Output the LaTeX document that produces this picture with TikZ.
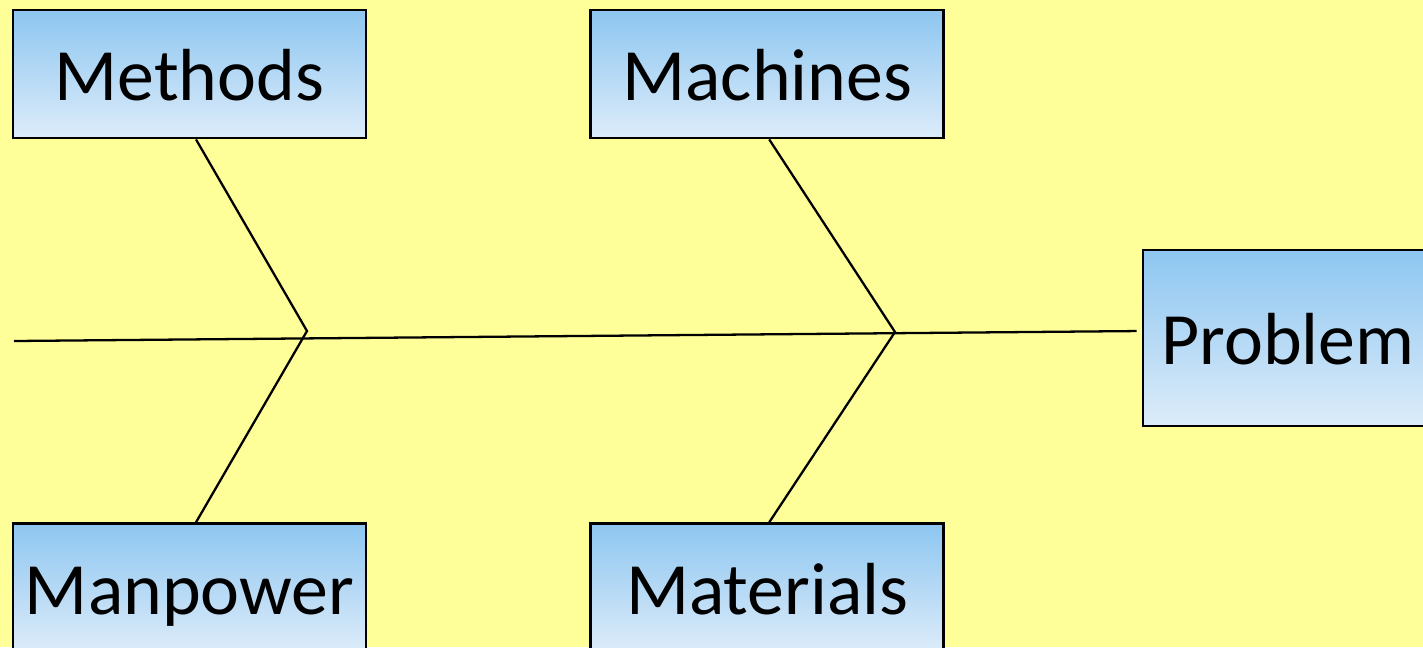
\documentclass[tikz,border=0pt]{standalone}
\usepackage{fontspec}
\setmainfont{Carlito}
\usetikzlibrary{positioning}
\definecolor{paper}{HTML}{FFFF99}
\definecolor{boxtop}{HTML}{8DC6F0}
\definecolor{boxbottom}{HTML}{DDECFA}
\tikzset{
  x=0.02cm, y=-0.02cm,
  node distance=4.44cm,
  cause/.style={draw, line width=1.6pt, top color=boxtop, bottom color=boxbottom,
    minimum width=7.06cm, minimum height=2.56cm, inner sep=0pt,
    text height=30.5pt, text depth=0pt,
    font=\fontsize{42}{50}\selectfont},
  bone/.style={line width=1.3pt},
}

\begin{document}
\begin{tikzpicture}
  \useasboundingbox (0,0) rectangle (1423,647);
  \clip (0,0) rectangle (1423,647);
  \fill[paper] (0,0) rectangle (1423,647);

  % causes
  \node[cause] (methods) at (189.5,74) {Methods};
  \node[cause, right=of methods] (machines) {Machines};
  \node[cause, below=7.66cm of methods] (manpower) {Manpower};
  \node[cause, below=7.66cm of machines] (materials) {Materials};
  \node[cause, minimum width=5.8cm, minimum height=3.52cm] (problem) at (1288,338) {Problem};

  % spine
  \coordinate (tail) at (14,341);
  \coordinate (j1) at (307,331);
  \coordinate (j2) at (895,332);
  \draw[bone, shorten >=0.1cm] (tail) -- ([yshift=0.14cm]problem.west);

  % bones
  \draw[bone] ([xshift=0.13cm]methods.south) -- (j1) -- ([xshift=0.13cm]manpower.north);
  \draw[bone] ([xshift=0.04cm]machines.south) -- (j2) -- ([xshift=0.04cm]materials.north);
\end{tikzpicture}
\end{document}
